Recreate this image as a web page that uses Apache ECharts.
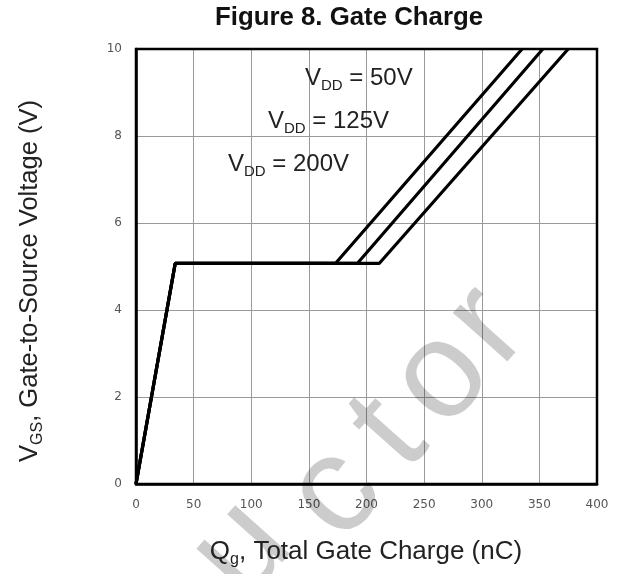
<!DOCTYPE html>
<html>
<head>
<meta charset="utf-8">
<script src="https://cdn.jsdelivr.net/npm/echarts@6/dist/echarts.min.js"></script>
<style>
html,body{margin:0;padding:0;background:#fff;}
#main{width:622px;height:574px;}
</style>
</head>
<body>
<div id="main"></div>
<script>
// Data (Qg in nC, VGS in V)
var seriesNames = ['VDD = 50V', 'VDD = 125V', 'VDD = 200V'];
var qg50  = [0, 34, 173, 335];
var vgs50 = [0, 5.07, 5.07, 10];
var qg125  = [0, 34, 192, 353];
var vgs125 = [0, 5.07, 5.07, 10];
var qg200  = [0, 34, 211, 375];
var vgs200 = [0, 5.07, 5.07, 10];
var xTicks = [0, 50, 100, 150, 200, 250, 300, 350, 400];
var yTicks = [0, 2, 4, 6, 8, 10];

function pairs(xs, ys) { return xs.map(function (x, i) { return [x, ys[i]]; }); }

var chart = echarts.init(document.getElementById('main'), null, {renderer: 'canvas'});
var FONT = '"Liberation Sans", Arial, sans-serif';

function lineSeries(name, xs, ys) {
  return {
    name: name, type: 'line', data: pairs(xs, ys), showSymbol: false, symbol: 'none',
    lineStyle: {color: '#000', width: 3.2}, clip: true, z: 5, animation: false
  };
}

function vddLabel(x, y, v) {
  return {
    type: 'text', left: x, top: y, z: 10,
    style: {
      text: '{a|V}{b|DD}{a| = ' + v + '}',
      rich: {
        a: {fontSize: 24, fontFamily: FONT, fill: '#222', color: '#222', lineHeight: 30, verticalAlign: 'middle'},
        b: {fontSize: 15, fontFamily: FONT, fill: '#222', color: '#222', lineHeight: 20, verticalAlign: 'bottom'}
      }
    }
  };
}

// faint background watermark (decoration of the scanned reference)
function wm(ch, x, y) {
  return {
    type: 'text', x: x, y: y, rotation: 0.84, z: 8, silent: true,
    style: {text: ch, font: '138px ' + FONT, fill: 'rgba(0,0,0,0.2)', textAlign: 'center', textVerticalAlign: 'middle'}
  };
}

var option = {
  backgroundColor: '#fff',
  animation: false,
  grid: {left: 136, right: 25, top: 49, bottom: 90, show: true, borderColor: '#000', borderWidth: 2.5, z: 3},
  xAxis: {
    type: 'value', min: xTicks[0], max: xTicks[xTicks.length - 1], interval: 50,
    axisLine: {show: true, lineStyle: {color: '#000', width: 2.5}},
    axisTick: {show: false},
    axisLabel: {fontSize: 12, color: '#555', margin: 15, fontFamily: '"DejaVu Sans", sans-serif'},
    splitLine: {show: true, lineStyle: {color: '#9a9a9a', width: 1}}
  },
  yAxis: {
    type: 'value', min: yTicks[0], max: yTicks[yTicks.length - 1], interval: 2,
    axisLine: {show: true, lineStyle: {color: '#000', width: 2.5}},
    axisTick: {show: false},
    axisLabel: {fontSize: 12, color: '#555', margin: 14, fontFamily: '"DejaVu Sans", sans-serif'},
    splitLine: {show: true, lineStyle: {color: '#9a9a9a', width: 1}}
  },
  series: [
    lineSeries(seriesNames[0], qg50, vgs50),
    lineSeries(seriesNames[1], qg125, vgs125),
    lineSeries(seriesNames[2], qg200, vgs200)
  ],
  graphic: [
    {
      type: 'text', x: 349, y: 18, z: 10,
      style: {text: 'Figure 8. Gate Charge', font: 'bold 25.8px ' + FONT, fill: '#111', textAlign: 'center', textVerticalAlign: 'middle'}
    },
    {
      type: 'text', x: 366, y: 552, z: 10,
      style: {
        text: '{a|Q}{b|g}{a|, Total Gate Charge (nC)}',
        textAlign: 'center', textVerticalAlign: 'middle',
        rich: {
          a: {fontSize: 26, fontFamily: FONT, fill: '#222', color: '#222', lineHeight: 32, verticalAlign: 'middle'},
          b: {fontSize: 16, fontFamily: FONT, fill: '#222', color: '#222', lineHeight: 21, verticalAlign: 'bottom'}
        }
      }
    },
    {
      type: 'text', x: 30, y: 281, rotation: Math.PI / 2, z: 10,
      style: {
        text: '{a|V}{b|GS}{a|, Gate-to-Source Voltage (V)}',
        textAlign: 'center', textVerticalAlign: 'middle',
        rich: {
          a: {fontSize: 25.5, fontFamily: FONT, fill: '#222', color: '#222', lineHeight: 32, verticalAlign: 'middle'},
          b: {fontSize: 16, fontFamily: FONT, fill: '#222', color: '#222', lineHeight: 24, verticalAlign: 'bottom'}
        }
      }
    },
    vddLabel(305, 66, '50V'),
    vddLabel(268, 109, '125V'),
    vddLabel(228, 152, '200V'),
    wm('u', 242, 550),
    wm('c', 336, 494),
    wm('t', 390, 434),
    wm('o', 442, 378),
    wm('r', 488, 326)
  ]
};
chart.setOption(option);
</script>
</body>
</html>
